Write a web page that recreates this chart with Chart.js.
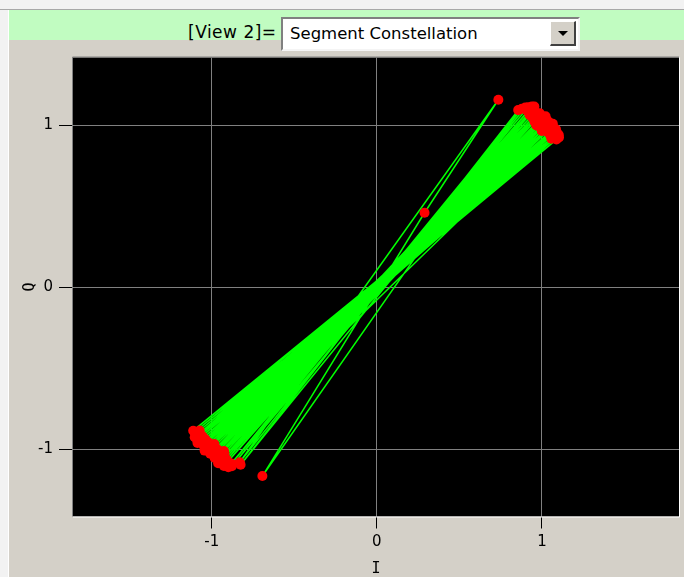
<!DOCTYPE html>
<html>
<head>
<meta charset="utf-8">
<script src="https://cdn.jsdelivr.net/npm/chart.js@4/dist/chart.umd.min.js"></script>
<style>
  html, body { margin: 0; padding: 0; }
  body {
    width: 684px; height: 577px; overflow: hidden; position: relative;
    background: #d4d0c8; font-family: "DejaVu Sans", sans-serif;
  }
  #topStrip { position: absolute; left: 0; top: 0; width: 684px; height: 9px; background: #f2f2f2; border-bottom: 1px solid #a8a8a8; }
  #leftStrip { position: absolute; left: 0; top: 10px; width: 8px; height: 567px; background: #f2f2f2; border-right: 1px solid #ffffff; }
  #band { position: absolute; left: 9px; top: 10px; width: 675px; height: 30px; background: #c1fcc1; }
  #viewLabel { position: absolute; left: 188px; top: 22px; font-size: 17px; line-height: 20px; letter-spacing: 0.5px; color: #000; }
  #combo {
    position: absolute; left: 281px; top: 17px; width: 295px; height: 30px;
    background: #fff; border-top: 2px solid #808080; border-left: 2px solid #808080;
    border-right: 2px solid #f4f4f4; border-bottom: 2px solid #f4f4f4;
  }
  #comboText { position: absolute; left: 7px; top: 5px; font-size: 16.5px; line-height: 20px; color: #000; white-space: nowrap; }
  #comboBtn {
    position: absolute; right: 2px; top: 2px; width: 23px; height: 22px; background: #d4d0c8;
    border-top: 1px solid #ffffff; border-left: 1px solid #ffffff;
    border-right: 2px solid #404040; border-bottom: 2px solid #404040;
  }
  #comboBtn::after {
    content: ""; position: absolute; left: 7px; top: 9px; width: 0; height: 0;
    border-left: 5px solid transparent; border-right: 5px solid transparent; border-top: 5px solid #000;
  }
  #plot { position: absolute; left: 0; top: 40px; }
</style>
</head>
<body>
<div id="topStrip"></div>
<div id="leftStrip"></div>
<div id="band"></div>
<div id="viewLabel">[View 2]=</div>
<div id="combo"><div id="comboText">Segment Constellation</div><div id="comboBtn"></div></div>
<canvas id="plot" width="684" height="537"></canvas>
<script>
// Symbol sequence: in-phase (I) and quadrature (Q) values, in time order
const I_vals = [
  0.994, -0.963, 0.989, -0.962, 1.004, -1.012, 1.035, -1.023, 1.062, -1.054,
  1.072, -1.072, 1.103, -1.103, 1.086, -1.087, 1.031, -1.037, 1.032, -1.009,
  0.982, -0.950, 0.951, -0.909, 0.939, -0.899, 0.878, -0.830, 0.736, 0.289,
  -0.693, 0.856, -0.825, 0.913, -0.906, 0.963, -0.961, 0.980, -0.966, 1.028,
  -1.043, 1.060, -1.040, 0.998, -0.997, 1.008, -0.967, 0.943, -0.923, 0.968,
  -0.994, 0.990, -1.038, 1.085, -1.087, 1.087, -1.112, 1.095, -1.056, 1.066,
  -1.007, 1.022, -0.962, 1.047, -1.062, 1.057, -1.103, 1.088, -1.073, 1.071,
  -1.086, 1.053, -1.031, 0.999, -0.984, 1.009, -0.987, 0.987, -0.957, 0.925,
  -0.928, 0.916, -0.881, 0.899, -0.878, 0.954, -0.926, 0.957, -0.922, 0.998,
  -0.982, 1.025, -0.988, 1.030, -1.044, 1.048, -1.057, 1.102, -1.080, 1.077,
  -1.047, 1.050, -1.020, 0.966, -0.970, 0.941, -0.932, 0.955, -0.926, 0.981
];
const Q_vals = [
  1.028, -1.015, 1.060, -1.031, 1.004, -0.995, 1.001, -0.955, 0.957, -0.967,
  0.932, -0.915, 0.926, -0.893, 0.961, -0.945, 0.962, -0.984, 1.032, -1.027,
  1.053, -1.055, 1.095, -1.064, 1.118, -1.111, 1.104, -1.080, 1.159, 0.461,
  -1.165, 1.095, -1.095, 1.088, -1.080, 1.070, -1.086, 1.014, -1.000, 0.994,
  -1.008, 0.989, -0.937, 0.981, -0.997, 1.043, -1.054, 1.048, -1.025, 1.038,
  -1.029, 0.990, -0.968, 0.977, -0.928, 0.928, -0.885, 0.951, -0.935, 1.011,
  -0.973, 1.057, -1.031, 0.960, -0.957, 0.918, -0.926, 0.913, -0.884, 0.948,
  -0.961, 0.982, -0.962, 0.966, -0.967, 1.027, -1.021, 1.076, -1.063, 1.065,
  -1.087, 1.112, -1.088, 1.111, -1.104, 1.117, -1.103, 1.062, -1.041, 1.051,
  -1.053, 1.025, -1.005, 0.977, -0.991, 0.943, -0.918, 0.941, -0.906, 0.970,
  -0.960, 1.015, -1.002, 1.000, -1.022, 1.064, -1.072, 1.023, -1.010, 0.998
];
const tickValues = [-1, 0, 1];
const xTitle = 'I';
const yTitle = 'Q';

const points = I_vals.map((v, k) => ({ x: v, y: Q_vals[k] }));

// Black plotting surface with a sunken frame around it
const plotFrame = {
  id: 'plotFrame',
  beforeDraw(chart) {
    const { ctx, chartArea: a } = chart;
    ctx.save();
    ctx.fillStyle = '#000000';
    ctx.fillRect(a.left, a.top, a.right - a.left, a.bottom - a.top);
    ctx.restore();
  },
  afterDraw(chart) {
    const { ctx, chartArea: a } = chart;
    ctx.save();
    ctx.lineWidth = 1;
    ctx.strokeStyle = '#808080';
    ctx.beginPath();
    ctx.moveTo(a.left - 0.5, a.bottom);
    ctx.lineTo(a.left - 0.5, a.top - 0.5);
    ctx.lineTo(a.right, a.top - 0.5);
    ctx.stroke();
    ctx.strokeStyle = '#ffffff';
    ctx.beginPath();
    ctx.moveTo(a.left, a.bottom + 0.5);
    ctx.lineTo(a.right + 0.5, a.bottom + 0.5);
    ctx.lineTo(a.right + 0.5, a.top);
    ctx.stroke();
    ctx.restore();
  }
};

const axisFont = { family: '"DejaVu Sans", sans-serif', size: 15 };
const titleFont = { family: '"DejaVu Sans Mono", monospace', size: 15, lineHeight: 1 };

new Chart(document.getElementById('plot'), {
  type: 'scatter',
  data: {
    datasets: [{
      data: points,
      showLine: true,
      borderColor: '#00ff00',
      borderWidth: 1.5,
      pointRadius: 5,
      pointHoverRadius: 5,
      pointBackgroundColor: '#ff0000',
      pointBorderWidth: 0,
      tension: 0
    }]
  },
  options: {
    responsive: false,
    animation: false,
    events: [],
    layout: { padding: { top: 17.5, right: 4, bottom: 0, left: 0 } },
    plugins: { legend: { display: false }, tooltip: { enabled: false } },
    scales: {
      x: {
        type: 'linear', min: -1.84, max: 1.83,
        afterBuildTicks(axis) { axis.ticks = tickValues.map(v => ({ value: v })); },
        afterFit(axis) { axis.height = 60.5; },
        grid: { color: '#808080', lineWidth: 1, tickColor: '#000000', tickLength: 12, drawTicks: true },
        border: { display: false },
        ticks: { color: '#000000', font: axisFont, padding: 5, maxRotation: 0 },
        title: { display: true, text: xTitle, color: '#000000', font: titleFont, padding: { top: 0, bottom: 0 } }
      },
      y: {
        type: 'linear', min: -1.415, max: 1.42,
        afterBuildTicks(axis) { axis.ticks = tickValues.map(v => ({ value: v })); },
        afterFit(axis) { axis.width = 73; },
        grid: { color: '#808080', lineWidth: 1, tickColor: '#000000', tickLength: 14, drawTicks: true },
        border: { display: false },
        ticks: { color: '#000000', font: axisFont, padding: 6 },
        title: { display: true, text: yTitle, color: '#000000', font: titleFont, padding: { top: 23, bottom: 0 } }
      }
    }
  },
  plugins: [plotFrame]
});
</script>
</body>
</html>
